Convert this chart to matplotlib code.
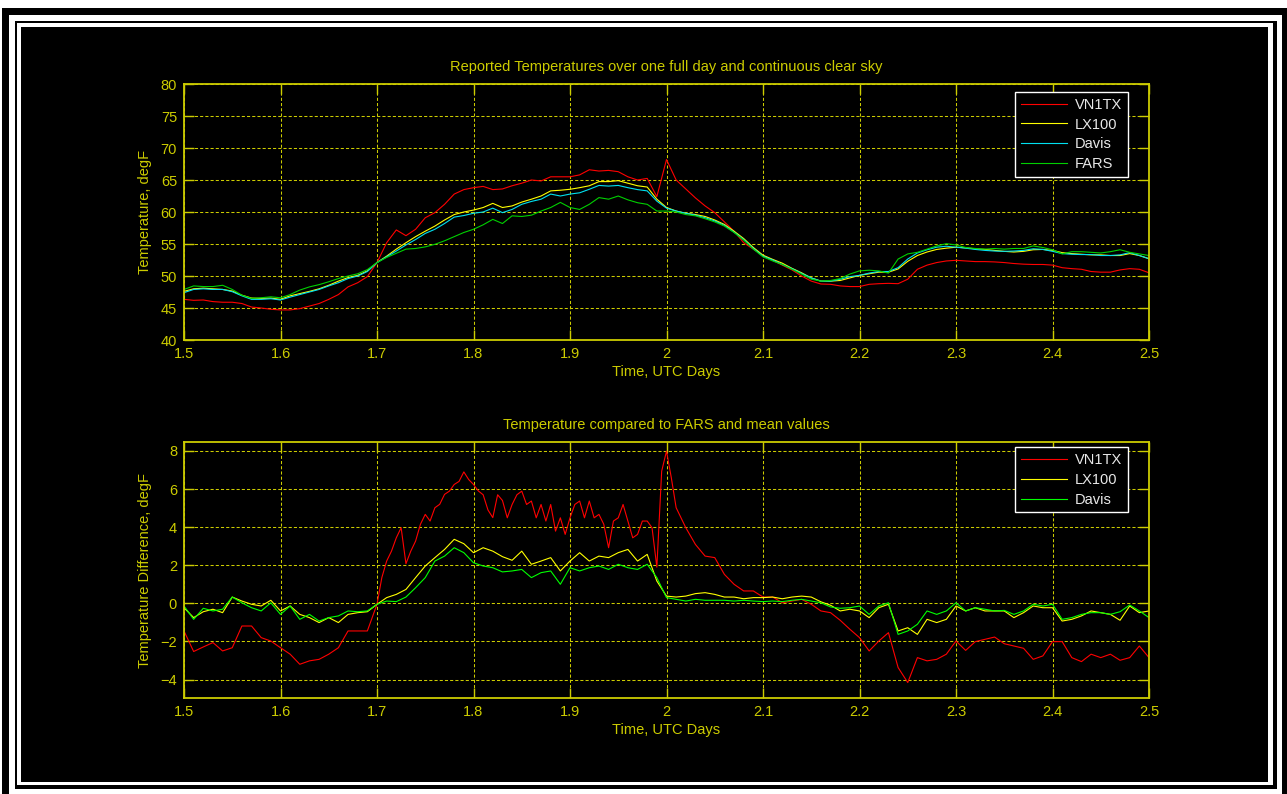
import numpy as np
import matplotlib
matplotlib.use('Agg')
import matplotlib.pyplot as plt
from matplotlib.patches import Rectangle

plt.rcParams['font.family'] = ['Liberation Sans', 'DejaVu Sans']

# time axis, UTC days (0.01 day steps)
t = np.round(np.arange(150, 251) / 100.0, 3)

# reported temperatures, degF
vn1tx = [46.35, 46.2, 46.25, 46.0, 45.9, 45.9, 45.7, 45.15, 45.0, 44.8,
         44.7, 44.7, 44.9, 45.3, 45.7, 46.35, 47.1, 48.3, 48.95, 49.9,
         52.1, 55.2, 57.2, 56.3, 57.3, 59.1, 59.9, 61.2, 62.8, 63.5,
         63.8, 64.0, 63.5, 63.6, 64.1, 64.5, 65.0, 64.85, 65.5, 65.5,
         65.5, 65.8, 66.6, 66.4, 66.5, 66.3, 65.5, 65.0, 65.25, 62.4,
         68.2, 65.0, 63.6, 62.2, 60.95, 59.9, 58.45, 57.0, 55.2, 54.2,
         53.2, 52.45, 51.7, 50.95, 50.0, 49.2, 48.75, 48.7, 48.45, 48.35,
         48.35, 48.7, 48.8, 48.85, 48.8, 49.5, 51.05, 51.7, 52.1, 52.35,
         52.45, 52.35, 52.25, 52.25, 52.2, 52.1, 51.95, 51.85, 51.8, 51.8,
         51.7, 51.3, 51.15, 51.05, 50.7, 50.6, 50.6, 50.95, 51.15, 51.05, 50.5]
lx100 = [47.6, 48.0, 48.1, 48.0, 47.9, 47.65, 47.0, 46.55, 46.5, 46.55,
         46.35, 46.9, 47.25, 47.6, 48.0, 48.55, 49.2, 49.75, 50.1, 50.8,
         52.1, 53.1, 54.2, 55.2, 56.15, 57.0, 57.8, 58.75, 59.6, 60.0,
         60.3, 60.7, 61.35, 60.7, 60.95, 61.55, 62.0, 62.5, 63.3, 63.4,
         63.55, 63.8, 64.1, 64.75, 64.75, 64.9, 64.5, 64.1, 63.9, 62.0,
         60.7, 60.15, 59.8, 59.6, 59.3, 58.75, 58.05, 57.0, 55.85, 54.45,
         53.25, 52.6, 52.0, 51.2, 50.5, 49.7, 49.2, 49.2, 49.3, 49.7,
         50.1, 50.35, 50.6, 50.6, 51.1, 52.3, 53.2, 53.75, 54.15, 54.35,
         54.5, 54.4, 54.25, 54.15, 54.0, 53.85, 53.75, 53.85, 54.1, 54.15,
         54.0, 53.65, 53.5, 53.4, 53.3, 53.3, 53.2, 53.2, 53.5, 53.2, 52.7]
davis = [47.4, 47.9, 48.0, 47.9, 47.9, 47.55, 46.9, 46.35, 46.35, 46.45,
         46.25, 46.7, 47.1, 47.5, 47.9, 48.45, 48.95, 49.6, 50.0, 50.7,
         52.1, 53.0, 53.9, 54.85, 55.7, 56.65, 57.3, 58.2, 59.2, 59.45,
         59.8, 60.0, 60.6, 59.9, 60.4, 61.2, 61.65, 62.0, 62.8, 62.5,
         62.8, 63.0, 63.55, 64.15, 64.05, 64.15, 63.8, 63.5, 63.3, 61.7,
         60.6, 60.15, 59.8, 59.5, 59.1, 58.6, 57.9, 56.85, 55.7, 54.3,
         53.1, 52.5, 51.8, 51.15, 50.4, 49.7, 49.2, 49.2, 49.5, 49.9,
         50.1, 50.45, 50.7, 50.7, 51.3, 52.65, 53.6, 54.1, 54.5, 54.65,
         54.5, 54.35, 54.15, 54.0, 53.9, 53.85, 53.9, 54.0, 54.25, 54.15,
         53.85, 53.5, 53.4, 53.35, 53.35, 53.2, 53.2, 53.3, 53.65, 53.2, 52.7]
fars = [47.9, 48.45, 48.35, 48.35, 48.55, 47.9, 47.0, 46.5, 46.6, 46.75,
        46.6, 47.1, 47.8, 48.3, 48.65, 49.1, 49.6, 50.0, 50.35, 51.0,
        52.1, 52.9, 53.55, 54.2, 54.3, 54.55, 54.95, 55.5, 56.15, 56.8,
        57.3, 58.0, 58.85, 58.2, 59.4, 59.3, 59.5, 60.15, 60.7, 61.5,
        60.7, 60.4, 61.2, 62.25, 62.0, 62.5, 61.9, 61.45, 61.2, 60.15,
        60.15, 60.0, 59.6, 59.4, 58.95, 58.45, 57.8, 56.8, 55.6, 54.2,
        53.0, 52.35, 51.8, 51.05, 50.3, 49.5, 49.2, 49.3, 49.6, 50.3,
        50.8, 50.9, 50.8, 50.45, 52.65, 53.45, 53.7, 54.2, 54.7, 55.05,
        54.85, 54.45, 54.3, 54.2, 54.3, 54.2, 54.3, 54.3, 54.7, 54.45,
        54.1, 53.45, 53.8, 53.8, 53.7, 53.6, 53.8, 54.1, 53.7, 53.45, 53.2]

# VN1TX difference is sampled finer through the noisy midday part
t_vn = np.round(np.concatenate([np.arange(150, 170), np.arange(340, 402) / 2.0,
                                np.arange(201, 251)]) / 100.0, 3)
diff_vn1tx = [-1.45, -2.53, -2.29, -2.06, -2.5, -2.33, -1.19, -1.19, -1.8, -1.98,
              -2.33, -2.67, -3.2, -3.02, -2.94, -2.67, -2.33, -1.45, -1.45, -1.45,
              -0.05, 1.35, 2.22, 2.74, 3.44, 3.97, 2.08, 2.74, 3.27, 4.15,
              4.67, 4.32, 5.02, 5.2, 5.72, 5.89, 6.24, 6.4, 6.9, 6.5,
              6.24, 5.9, 5.7, 4.9, 4.5, 5.7, 5.4, 4.49, 5.19, 5.7,
              5.89, 5.19, 5.37, 4.49, 5.19, 4.32, 5.19, 3.79, 4.49, 3.62,
              4.49, 5.19, 5.37, 4.49, 5.37, 4.49, 4.67, 4.15, 2.92, 4.32,
              4.49, 5.19, 4.32, 3.44, 3.62, 4.32, 4.32, 3.97, 1.9, 6.94,
              7.99, 6.59,
              5.02, 3.97, 3.09, 2.48, 2.4, 1.52, 1.0, 0.65, 0.65,
              0.33, 0.33, 0.03, 0.12, 0.21, -0.05, -0.4, -0.49, -0.89, -1.36,
              -1.8, -2.5, -1.98, -1.54, -3.37, -4.16, -2.85, -3.02, -2.94, -2.67,
              -1.98, -2.47, -2.01, -1.89, -1.77, -2.12, -2.24, -2.36, -2.94, -2.76,
              -2.01, -2.01, -2.85, -3.06, -2.67, -2.85, -2.67, -2.99, -2.85, -2.24, -2.85]
diff_lx100 = [-0.23, -0.75, -0.44, -0.31, -0.49, 0.33, 0.12, -0.05, -0.14, 0.16,
              -0.4, -0.14, -0.58, -0.75, -1.01, -0.75, -1.01, -0.58, -0.49, -0.44,
              -0.05, 0.3, 0.47, 0.73, 1.35, 1.96, 2.4, 2.83, 3.36, 3.13,
              2.66, 2.92, 2.74, 2.45, 2.26, 2.74, 2.05, 2.22, 2.4, 1.7,
              2.22, 2.66, 2.22, 2.48, 2.4, 2.66, 2.83, 2.22, 2.57, 1.17,
              0.38, 0.33, 0.38, 0.51, 0.56, 0.47, 0.33, 0.33, 0.24, 0.3,
              0.3, 0.33, 0.24, 0.33, 0.38, 0.33, 0.08, -0.1, -0.4, -0.31,
              -0.4, -0.75, -0.23, -0.05, -1.45, -1.28, -1.63, -0.84, -1.01, -0.84,
              -0.14, -0.4, -0.23, -0.4, -0.4, -0.4, -0.75, -0.49, -0.14, -0.23,
              -0.23, -0.93, -0.84, -0.66, -0.4, -0.49, -0.58, -0.89, -0.14, -0.49, -0.4]
diff_davis = [-0.14, -0.84, -0.26, -0.4, -0.31, 0.33, 0.03, -0.23, -0.4, 0.03,
              -0.58, -0.14, -0.84, -0.58, -0.93, -0.75, -0.66, -0.4, -0.44, -0.4,
              -0.05, 0.12, 0.09, 0.33, 0.82, 1.35, 2.22, 2.48, 2.92, 2.66,
              2.13, 1.96, 1.87, 1.65, 1.7, 1.78, 1.35, 1.61, 1.7, 1.0,
              1.87, 1.7, 1.87, 1.96, 1.78, 2.05, 1.87, 1.78, 2.05, 1.35,
              0.3, 0.21, 0.12, 0.21, 0.16, 0.16, 0.16, 0.12, 0.16, 0.12,
              0.09, 0.12, 0.09, 0.16, 0.21, 0.12, 0.03, -0.19, -0.26, -0.23,
              -0.14, -0.58, -0.14, 0.03, -1.63, -1.45, -1.1, -0.4, -0.58, -0.4,
              0.03, -0.4, -0.23, -0.31, -0.4, -0.37, -0.58, -0.4, -0.05, -0.14,
              -0.05, -0.84, -0.75, -0.58, -0.49, -0.49, -0.58, -0.44, -0.09, -0.4, -0.75]

W, H = 1287, 794
fig = plt.figure(figsize=(W / 100, H / 100), dpi=100, facecolor='white')


def box(x0, y0, x1, y1, color):
    # rectangle given in pixels measured from the top-left corner
    fig.add_artist(Rectangle((x0 / W, 1 - y1 / H), (x1 - x0) / W, (y1 - y0) / H,
                             transform=fig.transFigure, facecolor=color,
                             edgecolor='none', zorder=-10))


# picture frame
box(2, 8, 1300, 810, 'black')
box(9, 15, 1282, 810, 'white')
box(15, 21, 1277, 789, 'black')
box(17, 23, 1273, 785, 'white')
box(21, 27, 1268, 782, 'black')

axcol = '#CCCC00'
txtsize = 10.5


def style(ax):
    ax.set_facecolor('black')
    for s in ax.spines.values():
        s.set_color(axcol)
        s.set_linewidth(1.3)
    ax.tick_params(direction='in', length=7, width=1, colors=axcol,
                   labelsize=txtsize, top=True, right=True, pad=5)
    ax.grid(True, color=axcol, linestyle=(0, (3, 2)), linewidth=0.75)
    ax.set_xlim(1.5, 2.5)
    ax.set_xticks(np.arange(1.5, 2.51, 0.1))
    ax.set_xticklabels(['1.5', '1.6', '1.7', '1.8', '1.9', '2', '2.1', '2.2', '2.3', '2.4', '2.5'])
    ax.set_xlabel('Time, UTC Days', color=axcol, fontsize=txtsize, labelpad=3)


def legend(ax, y_top):
    leg = ax.legend(loc='upper right', bbox_to_anchor=(0.978, y_top), borderaxespad=0,
                    fancybox=False, framealpha=1, facecolor='black', edgecolor='white',
                    fontsize=txtsize, handlelength=3.2, handletextpad=0.5,
                    labelspacing=0.4, borderpad=0.4)
    leg.get_frame().set_linewidth(1.0)
    for txt in leg.get_texts():
        txt.set_color('#E8E8E8')


ax1 = fig.add_axes([184 / W, 1 - 340 / H, 965 / W, 256 / H])
style(ax1)
ax1.plot(t, vn1tx, color='#FF0000', lw=0.8, label='VN1TX')
ax1.plot(t, lx100, color='#FFFF00', lw=0.8, label='LX100')
ax1.plot(t, davis, color='#00E0F0', lw=0.8, label='Davis')
ax1.plot(t, fars, color='#00D000', lw=0.8, label='FARS')
ax1.set_ylim(40, 80)
ax1.set_yticks(range(40, 81, 5))
ax1.set_ylabel('Temperature, degF', color=axcol, fontsize=txtsize, labelpad=6)
ax1.set_title('Reported Temperatures over one full day and continuous clear sky',
              color=axcol, fontsize=txtsize, pad=9)
legend(ax1, 0.969)

ax2 = fig.add_axes([184 / W, 1 - 698 / H, 965 / W, 256 / H])
style(ax2)
ax2.plot(t_vn, diff_vn1tx, color='#FF0000', lw=0.8, label='VN1TX')
ax2.plot(t, diff_lx100, color='#FFFF00', lw=0.8, label='LX100')
ax2.plot(t, diff_davis, color='#00FF00', lw=0.8, label='Davis')
ax2.set_ylim(-4.97, 8.47)
ax2.set_yticks(range(-4, 9, 2))
ax2.set_ylabel('Temperature Difference, degF', color=axcol, fontsize=txtsize, labelpad=6)
ax2.set_title('Temperature compared to FARS and mean values',
              color=axcol, fontsize=txtsize, pad=9)
legend(ax2, 0.98)

fig.savefig('out.png', dpi=100, facecolor=fig.get_facecolor())
